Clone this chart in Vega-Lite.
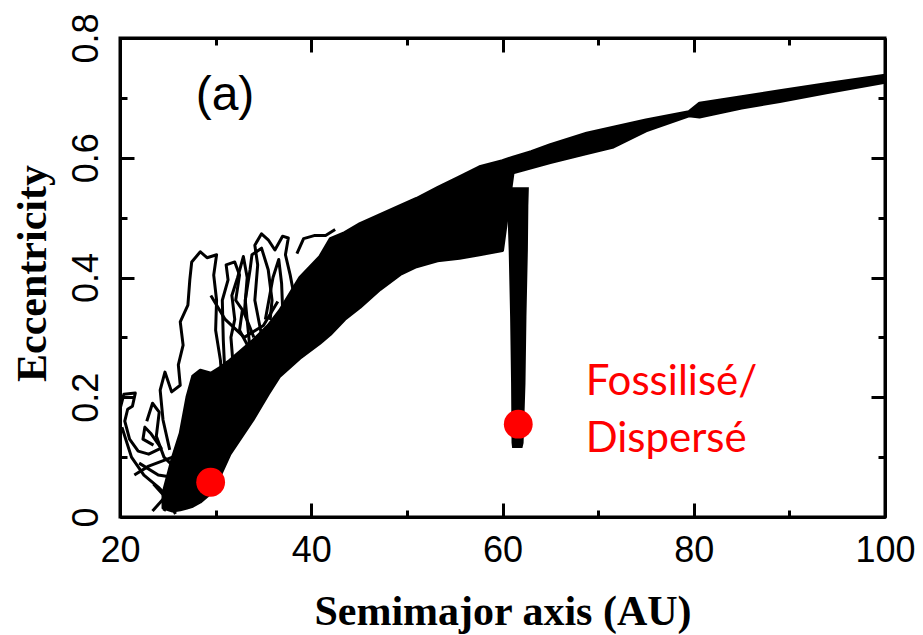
{
  "$schema": "https://vega.github.io/schema/vega-lite/v6.json",
  "width": 765,
  "height": 479,
  "autosize": {"type": "none"},
  "padding": {"left": 120, "top": 38, "right": 38, "bottom": 118},
  "background": "white",
  "config": {
    "view": {"stroke": "black", "strokeWidth": 3},
    "axis": {
      "domainColor": "black", "domainWidth": 3, "tickColor": "black", "tickWidth": 3,
      "grid": false, "labelColor": "black", "labelFont": "Liberation Sans", "labelFontSize": 36,
      "labelFlush": false, "labelOverlap": false, "titleColor": "black",
      "titleFont": "Liberation Serif", "titleFontWeight": "bold", "titleFontSize": 42
    }
  },
  "datasets": {
    "band": [
      {"a": 24.5, "hi": 0.04, "lo": 0.015},
      {"a": 25.5, "hi": 0.10, "lo": 0.010},
      {"a": 26.3, "hi": 0.14, "lo": 0.012},
      {"a": 27.0, "hi": 0.20, "lo": 0.015},
      {"a": 27.6, "hi": 0.235, "lo": 0.018},
      {"a": 28.4, "hi": 0.245, "lo": 0.025},
      {"a": 29.5, "hi": 0.24, "lo": 0.04},
      {"a": 30.5, "hi": 0.25, "lo": 0.07},
      {"a": 31.5, "hi": 0.262, "lo": 0.105},
      {"a": 33.9, "hi": 0.295, "lo": 0.162},
      {"a": 35.5, "hi": 0.32, "lo": 0.205},
      {"a": 36.7, "hi": 0.345, "lo": 0.235},
      {"a": 38.8, "hi": 0.40, "lo": 0.265},
      {"a": 40.9, "hi": 0.435, "lo": 0.29},
      {"a": 42.0, "hi": 0.465, "lo": 0.305},
      {"a": 43.5, "hi": 0.475, "lo": 0.33},
      {"a": 45.1, "hi": 0.49, "lo": 0.35},
      {"a": 47.2, "hi": 0.505, "lo": 0.38},
      {"a": 49.3, "hi": 0.52, "lo": 0.405},
      {"a": 51.0, "hi": 0.532, "lo": 0.418},
      {"a": 53.2, "hi": 0.55, "lo": 0.428},
      {"a": 55.5, "hi": 0.568, "lo": 0.432},
      {"a": 57.6, "hi": 0.585, "lo": 0.438},
      {"a": 60.0, "hi": 0.595, "lo": 0.445},
      {"a": 61.1, "hi": 0.601, "lo": 0.575},
      {"a": 63.0, "hi": 0.61, "lo": 0.583},
      {"a": 65.0, "hi": 0.622, "lo": 0.592},
      {"a": 68.8, "hi": 0.641, "lo": 0.607},
      {"a": 71.6, "hi": 0.651, "lo": 0.618},
      {"a": 75.0, "hi": 0.663, "lo": 0.645},
      {"a": 79.5, "hi": 0.677, "lo": 0.670},
      {"a": 80.6, "hi": 0.691, "lo": 0.668},
      {"a": 85.0, "hi": 0.702, "lo": 0.683},
      {"a": 89.0, "hi": 0.712, "lo": 0.694},
      {"a": 94.0, "hi": 0.724, "lo": 0.709},
      {"a": 100.0, "hi": 0.738, "lo": 0.726}
    ],
    "col": [
      {"e": 0.549, "l": 60.5, "r": 62.65},
      {"e": 0.52, "l": 60.6, "r": 62.6},
      {"e": 0.446, "l": 60.75, "r": 62.55},
      {"e": 0.334, "l": 60.9, "r": 62.4},
      {"e": 0.224, "l": 61.0, "r": 62.3},
      {"e": 0.124, "l": 61.05, "r": 62.1},
      {"e": 0.117, "l": 61.1, "r": 62.0}
    ],
    "traj": [
      {"t": 1, "i": 0, "a": 25.2, "e": 0.112},
      {"t": 1, "i": 1, "a": 24.5, "e": 0.162},
      {"t": 1, "i": 2, "a": 24.2, "e": 0.212},
      {"t": 1, "i": 3, "a": 24.7, "e": 0.242},
      {"t": 1, "i": 4, "a": 25.4, "e": 0.209},
      {"t": 1, "i": 5, "a": 26.3, "e": 0.220},
      {"t": 1, "i": 6, "a": 26.1, "e": 0.254},
      {"t": 1, "i": 7, "a": 26.6, "e": 0.287},
      {"t": 1, "i": 8, "a": 26.3, "e": 0.326},
      {"t": 1, "i": 9, "a": 27.1, "e": 0.354},
      {"t": 1, "i": 10, "a": 27.3, "e": 0.396},
      {"t": 1, "i": 11, "a": 27.5, "e": 0.426},
      {"t": 1, "i": 12, "a": 28.4, "e": 0.443},
      {"t": 1, "i": 13, "a": 29.1, "e": 0.433},
      {"t": 1, "i": 14, "a": 30.1, "e": 0.438},
      {"t": 1, "i": 15, "a": 29.8, "e": 0.404},
      {"t": 1, "i": 16, "a": 30.1, "e": 0.362},
      {"t": 1, "i": 17, "a": 30.0, "e": 0.312},
      {"t": 1, "i": 18, "a": 30.5, "e": 0.262},
      {"t": 1, "i": 19, "a": 30.7, "e": 0.220},
      {"t": 2, "i": 0, "a": 31.0, "e": 0.229},
      {"t": 2, "i": 1, "a": 30.8, "e": 0.296},
      {"t": 2, "i": 2, "a": 30.7, "e": 0.362},
      {"t": 2, "i": 3, "a": 31.3, "e": 0.396},
      {"t": 2, "i": 4, "a": 31.1, "e": 0.421},
      {"t": 2, "i": 5, "a": 32.0, "e": 0.426},
      {"t": 2, "i": 6, "a": 32.5, "e": 0.404},
      {"t": 2, "i": 7, "a": 32.1, "e": 0.362},
      {"t": 2, "i": 8, "a": 32.8, "e": 0.346},
      {"t": 2, "i": 9, "a": 32.5, "e": 0.312},
      {"t": 2, "i": 10, "a": 33.6, "e": 0.279},
      {"t": 2, "i": 11, "a": 33.1, "e": 0.362},
      {"t": 2, "i": 12, "a": 33.6, "e": 0.413},
      {"t": 2, "i": 13, "a": 33.8, "e": 0.438},
      {"t": 2, "i": 14, "a": 34.8, "e": 0.449},
      {"t": 2, "i": 15, "a": 35.5, "e": 0.413},
      {"t": 2, "i": 16, "a": 35.9, "e": 0.362},
      {"t": 2, "i": 17, "a": 35.7, "e": 0.329},
      {"t": 3, "i": 0, "a": 34.8, "e": 0.304},
      {"t": 3, "i": 1, "a": 34.1, "e": 0.362},
      {"t": 3, "i": 2, "a": 34.4, "e": 0.421},
      {"t": 3, "i": 3, "a": 34.1, "e": 0.454},
      {"t": 3, "i": 4, "a": 34.8, "e": 0.473},
      {"t": 3, "i": 5, "a": 35.5, "e": 0.463},
      {"t": 3, "i": 6, "a": 36.2, "e": 0.446},
      {"t": 3, "i": 7, "a": 37.0, "e": 0.469},
      {"t": 3, "i": 8, "a": 37.6, "e": 0.466},
      {"t": 3, "i": 9, "a": 37.3, "e": 0.438},
      {"t": 3, "i": 10, "a": 37.8, "e": 0.404},
      {"t": 3, "i": 11, "a": 38.3, "e": 0.362},
      {"t": 4, "i": 0, "a": 20.0, "e": 0.18},
      {"t": 4, "i": 1, "a": 20.4, "e": 0.205},
      {"t": 4, "i": 2, "a": 21.6, "e": 0.207},
      {"t": 4, "i": 3, "a": 21.3, "e": 0.185},
      {"t": 4, "i": 4, "a": 20.8, "e": 0.18},
      {"t": 4, "i": 5, "a": 20.5, "e": 0.16},
      {"t": 4, "i": 6, "a": 21.0, "e": 0.13},
      {"t": 4, "i": 7, "a": 21.9, "e": 0.11},
      {"t": 4, "i": 8, "a": 23.0, "e": 0.105},
      {"t": 4, "i": 9, "a": 24.3, "e": 0.115},
      {"t": 4, "i": 10, "a": 23.2, "e": 0.14},
      {"t": 4, "i": 11, "a": 22.6, "e": 0.15},
      {"t": 4, "i": 12, "a": 22.4, "e": 0.13},
      {"t": 4, "i": 13, "a": 23.5, "e": 0.12},
      {"t": 5, "i": 0, "a": 20.2, "e": 0.15},
      {"t": 5, "i": 1, "a": 21.2, "e": 0.10},
      {"t": 5, "i": 2, "a": 22.5, "e": 0.07},
      {"t": 5, "i": 3, "a": 24.0, "e": 0.05},
      {"t": 5, "i": 4, "a": 25.2, "e": 0.03},
      {"t": 5, "i": 5, "a": 24.6, "e": 0.01},
      {"t": 6, "i": 0, "a": 21.5, "e": 0.07},
      {"t": 6, "i": 1, "a": 23.0, "e": 0.085},
      {"t": 6, "i": 2, "a": 25.5, "e": 0.10},
      {"t": 6, "i": 3, "a": 26.6, "e": 0.105},
      {"t": 7, "i": 0, "a": 23.4, "e": 0.01},
      {"t": 7, "i": 1, "a": 26.2, "e": 0.06},
      {"t": 8, "i": 0, "a": 23.5, "e": 0.055},
      {"t": 8, "i": 1, "a": 25.2, "e": 0.025},
      {"t": 8, "i": 2, "a": 25.8, "e": 0.005},
      {"t": 9, "i": 0, "a": 22.0, "e": 0.09},
      {"t": 9, "i": 1, "a": 24.0, "e": 0.07},
      {"t": 9, "i": 2, "a": 26.0, "e": 0.065},
      {"t": 10, "i": 0, "a": 31.8, "e": 0.26},
      {"t": 10, "i": 1, "a": 31.6, "e": 0.30},
      {"t": 10, "i": 2, "a": 32.0, "e": 0.33},
      {"t": 10, "i": 3, "a": 31.7, "e": 0.37},
      {"t": 10, "i": 4, "a": 32.3, "e": 0.40},
      {"t": 10, "i": 5, "a": 32.9, "e": 0.435},
      {"t": 10, "i": 6, "a": 33.3, "e": 0.40},
      {"t": 10, "i": 7, "a": 33.0, "e": 0.34},
      {"t": 10, "i": 8, "a": 34.0, "e": 0.30},
      {"t": 11, "i": 0, "a": 29.5, "e": 0.37},
      {"t": 11, "i": 1, "a": 31.0, "e": 0.33},
      {"t": 11, "i": 2, "a": 33.0, "e": 0.30},
      {"t": 11, "i": 3, "a": 35.0, "e": 0.32},
      {"t": 11, "i": 4, "a": 36.5, "e": 0.36},
      {"t": 12, "i": 0, "a": 35.2, "e": 0.33},
      {"t": 12, "i": 1, "a": 36.0, "e": 0.40},
      {"t": 12, "i": 2, "a": 36.6, "e": 0.43},
      {"t": 12, "i": 3, "a": 36.9, "e": 0.39},
      {"t": 12, "i": 4, "a": 37.0, "e": 0.35},
      {"t": 13, "i": 0, "a": 22.8, "e": 0.16},
      {"t": 13, "i": 1, "a": 23.4, "e": 0.19},
      {"t": 13, "i": 2, "a": 24.1, "e": 0.175},
      {"t": 13, "i": 3, "a": 23.8, "e": 0.135},
      {"t": 13, "i": 4, "a": 24.6, "e": 0.10},
      {"t": 13, "i": 5, "a": 25.9, "e": 0.08},
      {"t": 14, "i": 0, "a": 38.5, "e": 0.44},
      {"t": 14, "i": 1, "a": 39.2, "e": 0.465},
      {"t": 14, "i": 2, "a": 40.3, "e": 0.47},
      {"t": 14, "i": 3, "a": 41.5, "e": 0.47},
      {"t": 14, "i": 4, "a": 42.5, "e": 0.48}
    ],
    "dots": [
      {"a": 29.48, "e": 0.058},
      {"a": 61.65, "e": 0.155}
    ],
    "notes": [
      {"a": 68.7, "e": 0.2038, "txt": "Fossilisé/"},
      {"a": 68.7, "e": 0.1086, "txt": "Dispersé"}
    ],
    "panel": [
      {"a": 30.98, "e": 0.68, "txt": "(a)"}
    ]
  },
  "layer": [
    {
      "data": {"name": "band"},
      "mark": {"type": "area", "color": "black", "stroke": "black", "strokeWidth": 3, "strokeJoin": "round"},
      "encoding": {
        "x": {"field": "a", "type": "quantitative", "scale": {"domain": [20, 100], "nice": false, "zero": false},
          "axis": {"orient": "bottom", "title": "Semimajor axis (AU)", "values": [20, 30, 40, 50, 60, 70, 80, 90, 100],
            "labelExpr": "datum.value % 20 === 0 ? format(datum.value, 'd') : ''",
            "tickSize": {"condition": {"test": "datum.value % 20 === 0", "value": -14}, "value": -7},
            "labelBaseline": "alphabetic", "labelPadding": 58, "titleBaseline": "alphabetic", "titleY": 107}},
        "y": {"field": "hi", "type": "quantitative", "scale": {"domain": [0, 0.8], "nice": false, "zero": false},
          "axis": {"orient": "left", "title": "Eccentricity", "values": [0, 0.1, 0.2, 0.3, 0.4, 0.5, 0.6, 0.7, 0.8],
            "labelExpr": "datum.value === 0 ? '0' : (round(datum.value * 10) % 2 === 0 ? format(datum.value, '.1f') : '')",
            "tickSize": {"condition": {"test": "round(datum.value * 10) % 2 === 0", "value": -14}, "value": -7},
            "labelAngle": -90, "labelAlign": "center", "labelBaseline": "alphabetic", "labelPadding": 37,
            "titleBaseline": "alphabetic", "titleX": -75, "titleY": 235}},
        "y2": {"field": "lo"}
      }
    },
    {
      "data": {"name": "col"},
      "mark": {"type": "area", "orient": "horizontal", "color": "black", "stroke": "black", "strokeWidth": 2},
      "encoding": {
        "y": {"field": "e", "type": "quantitative", "scale": {"domain": [0, 0.8], "nice": false, "zero": false},
          "axis": {"orient": "right", "title": null, "labels": false, "values": [0, 0.1, 0.2, 0.3, 0.4, 0.5, 0.6, 0.7, 0.8],
            "tickSize": {"condition": {"test": "round(datum.value * 10) % 2 === 0", "value": -14}, "value": -7}}},
        "x": {"field": "l", "type": "quantitative", "scale": {"domain": [20, 100], "nice": false, "zero": false},
          "axis": {"orient": "top", "title": null, "labels": false, "values": [20, 30, 40, 50, 60, 70, 80, 90, 100],
            "tickSize": {"condition": {"test": "datum.value % 20 === 0", "value": -14}, "value": -7}}},
        "x2": {"field": "r"}
      }
    },
    {
      "data": {"name": "traj"},
      "mark": {"type": "line", "color": "black", "strokeWidth": 3, "strokeJoin": "round", "clip": true},
      "encoding": {
        "x": {"field": "a", "type": "quantitative", "scale": {"domain": [20, 100], "nice": false, "zero": false}, "axis": null},
        "y": {"field": "e", "type": "quantitative", "scale": {"domain": [0, 0.8], "nice": false, "zero": false}, "axis": null},
        "detail": {"field": "t", "type": "nominal"},
        "order": {"field": "i", "type": "quantitative"}
      }
    },
    {
      "data": {"name": "dots"},
      "mark": {"type": "circle", "color": "#ff0000", "opacity": 1, "size": 830},
      "encoding": {
        "x": {"field": "a", "type": "quantitative", "scale": {"domain": [20, 100], "nice": false, "zero": false}, "axis": null},
        "y": {"field": "e", "type": "quantitative", "scale": {"domain": [0, 0.8], "nice": false, "zero": false}, "axis": null}
      }
    },
    {
      "data": {"name": "notes"},
      "mark": {"type": "text", "color": "#ff0000", "font": "Lato", "fontSize": 42, "align": "left", "baseline": "alphabetic"},
      "encoding": {
        "x": {"field": "a", "type": "quantitative", "scale": {"domain": [20, 100], "nice": false, "zero": false}, "axis": null},
        "y": {"field": "e", "type": "quantitative", "scale": {"domain": [0, 0.8], "nice": false, "zero": false}, "axis": null},
        "text": {"field": "txt"}
      }
    },
    {
      "data": {"name": "panel"},
      "mark": {"type": "text", "color": "black", "font": "Liberation Sans", "fontSize": 48, "align": "center", "baseline": "alphabetic"},
      "encoding": {
        "x": {"field": "a", "type": "quantitative", "scale": {"domain": [20, 100], "nice": false, "zero": false}, "axis": null},
        "y": {"field": "e", "type": "quantitative", "scale": {"domain": [0, 0.8], "nice": false, "zero": false}, "axis": null},
        "text": {"field": "txt"}
      }
    }
  ],
  "resolve": {"axis": {"x": "independent", "y": "independent"}}
}
